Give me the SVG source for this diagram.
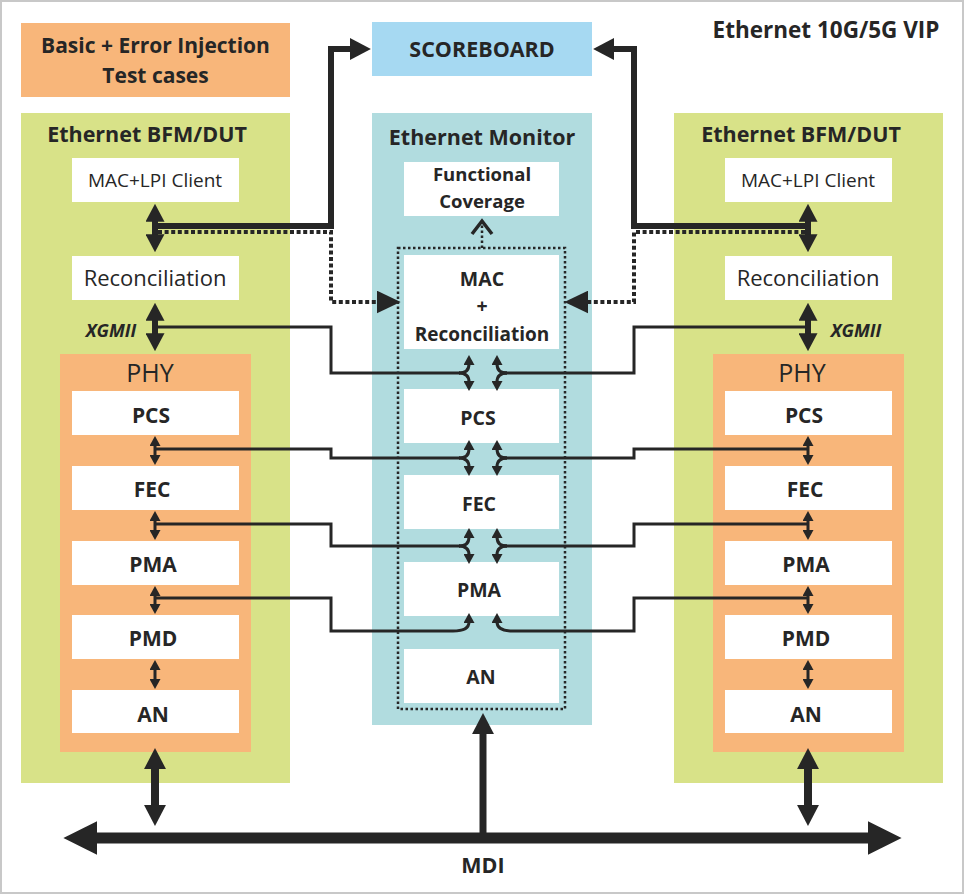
<svg xmlns="http://www.w3.org/2000/svg" width="964" height="894" viewBox="0 0 964 894">
<style>
text{font-family:"Open Sans","Noto Sans","Liberation Sans",sans-serif;fill:#262626;text-anchor:middle}
.b{font-weight:bold}
.t{font-size:21.5px;font-weight:bold}
.lbl{font-size:21px;font-weight:bold}
.mlbl{font-size:19.5px;font-weight:bold}
.reg{font-size:22px}
.box{fill:#fff}
.green{fill:#D8E288}
.orange{fill:#F8B67A}
.mon{fill:#B1DCDF}
.thin{fill:none;stroke:#262626;stroke-width:3}
.thick{fill:none;stroke:#262626;stroke-width:6}
.dot{fill:none;stroke:#262626;stroke-width:4;stroke-dasharray:4 2.6}
.fdot{fill:none;stroke:#262626;stroke-width:2.5;stroke-dasharray:2.5 2.5}
</style>
<defs>
<marker id="hs" viewBox="0 0 10 10" refX="1" refY="5" markerWidth="10" markerHeight="11" markerUnits="userSpaceOnUse" orient="auto-start-reverse" preserveAspectRatio="none"><path d="M0,0L10,5L0,10z" fill="#262626"/></marker>
<marker id="hm" viewBox="0 0 10 10" refX="1" refY="5" markerWidth="18" markerHeight="19" markerUnits="userSpaceOnUse" orient="auto-start-reverse" preserveAspectRatio="none"><path d="M0,0L10,5L0,10z" fill="#262626"/></marker>
<marker id="hk" viewBox="0 0 10 10" refX="1" refY="5" markerWidth="21" markerHeight="22" markerUnits="userSpaceOnUse" orient="auto-start-reverse" preserveAspectRatio="none"><path d="M0,0L10,5L0,10z" fill="#262626"/></marker>
<marker id="hd" viewBox="0 0 10 10" refX="1" refY="5" markerWidth="24" markerHeight="23" markerUnits="userSpaceOnUse" orient="auto" preserveAspectRatio="none"><path d="M0,0L10,5L0,10z" fill="#262626"/></marker>
<marker id="hb" viewBox="0 0 10 10" refX="1" refY="5" markerWidth="34" markerHeight="34" markerUnits="userSpaceOnUse" orient="auto-start-reverse" preserveAspectRatio="none"><path d="M0,0L10,5L0,10z" fill="#262626"/></marker>
</defs>
<rect x="1" y="1" width="962" height="892" fill="#fff" stroke="#c8c8c8" stroke-width="2"/>
<text x="826" y="38" font-size="22.5" class="b">Ethernet 10G/5G VIP</text>

<g id="testcases">
<rect x="21" y="23" width="269" height="74" class="orange"/>
<text x="155.5" y="53" font-size="21" class="b">Basic + Error Injection</text>
<text x="155.5" y="83" font-size="21" class="b">Test cases</text>
</g>

<g id="scoreboard">
<rect x="372" y="22" width="220" height="54" fill="#A6D9F2"/>
<text x="482" y="57" class="t">SCOREBOARD</text>
</g>

<g id="bfm-left">
<rect x="21" y="113" width="269" height="670" class="green"/>
<text x="147" y="142" class="t">Ethernet BFM/DUT</text>
<rect x="72" y="158" width="167" height="44" class="box"/>
<text x="155" y="187" font-size="19">MAC+LPI Client</text>
<rect x="72" y="256" width="167" height="44" class="box"/>
<text x="155" y="286" class="reg">Reconciliation</text>
<text x="111" y="337" font-size="18" font-weight="bold" font-style="italic">XGMII</text>
<rect x="60" y="354" width="191" height="398" class="orange"/>
<text x="150" y="382" font-size="25">PHY</text>
<rect x="72" y="391" width="167" height="44" class="box"/>
<text x="151" y="423" class="lbl">PCS</text>
<rect x="72" y="466" width="167" height="44" class="box"/>
<text x="152" y="497" class="lbl">FEC</text>
<rect x="72" y="541" width="167" height="44" class="box"/>
<text x="153" y="572" class="lbl">PMA</text>
<rect x="72" y="615" width="167" height="44" class="box"/>
<text x="153" y="646" class="lbl">PMD</text>
<rect x="72" y="690" width="167" height="43" class="box"/>
<text x="153" y="722" class="lbl">AN</text>
</g>

<g id="bfm-right">
<rect x="674" y="113" width="269" height="670" class="green"/>
<text x="801" y="142" class="t">Ethernet BFM/DUT</text>
<rect x="725" y="158" width="167" height="44" class="box"/>
<text x="808" y="187" font-size="19">MAC+LPI Client</text>
<rect x="725" y="256" width="167" height="44" class="box"/>
<text x="808" y="286" class="reg">Reconciliation</text>
<text x="856" y="337" font-size="18" font-weight="bold" font-style="italic">XGMII</text>
<rect x="713" y="354" width="191" height="398" class="orange"/>
<text x="802" y="382" font-size="25">PHY</text>
<rect x="725" y="391" width="167" height="44" class="box"/>
<text x="804" y="423" class="lbl">PCS</text>
<rect x="725" y="466" width="167" height="44" class="box"/>
<text x="805" y="497" class="lbl">FEC</text>
<rect x="725" y="541" width="167" height="44" class="box"/>
<text x="806" y="572" class="lbl">PMA</text>
<rect x="725" y="615" width="167" height="44" class="box"/>
<text x="806" y="646" class="lbl">PMD</text>
<rect x="725" y="690" width="167" height="43" class="box"/>
<text x="806" y="722" class="lbl">AN</text>
</g>

<g id="monitor">
<rect x="372" y="113" width="220" height="612" class="mon"/>
<text x="482" y="145" class="t">Ethernet Monitor</text>
<rect x="404" y="162" width="155" height="54" class="box"/>
<text x="482" y="181" font-size="18.5" class="b">Functional</text>
<text x="482" y="208" font-size="18.5" class="b">Coverage</text>
<rect x="404" y="255" width="155" height="94" class="box"/>
<text x="482" y="286" class="mlbl">MAC</text>
<text x="482" y="313" class="mlbl">+</text>
<text x="482" y="341" font-size="19" class="b">Reconciliation</text>
<rect x="404" y="389" width="155" height="54" class="box"/>
<text x="478" y="425" class="mlbl">PCS</text>
<rect x="404" y="475" width="155" height="54" class="box"/>
<text x="479" y="511" class="mlbl">FEC</text>
<rect x="404" y="562" width="155" height="54" class="box"/>
<text x="479" y="597" class="mlbl">PMA</text>
<rect x="404" y="649" width="155" height="54" class="box"/>
<text x="481" y="684" class="mlbl">AN</text>
<rect x="398" y="248" width="167" height="461" class="fdot"/>
</g>

<text x="483" y="873" class="t">MDI</text>

<g id="connectors">
<path d="M155,226H331V49H352" class="thick" marker-end="url(#hk)"/>
<path d="M808,226H634V49H612" class="thick" marker-end="url(#hk)"/>
<path d="M158,232H331V302H379" class="dot" marker-end="url(#hd)"/>
<path d="M805,232H634V302H586" class="dot" marker-end="url(#hd)"/>
<path d="M482,248V222" class="fdot"/>
<polyline points="472,234 482,221 492,234" fill="none" stroke="#262626" stroke-width="3.5"/>
<path d="M155,220V236" class="thick" marker-start="url(#hm)" marker-end="url(#hm)"/>
<path d="M155,319V335" class="thick" marker-start="url(#hm)" marker-end="url(#hm)"/>
<path d="M808,220V236" class="thick" marker-start="url(#hm)" marker-end="url(#hm)"/>
<path d="M808,319V335" class="thick" marker-start="url(#hm)" marker-end="url(#hm)"/>
<path d="M155,445V456" class="thin" marker-start="url(#hs)" marker-end="url(#hs)"/>
<path d="M155,520V531" class="thin" marker-start="url(#hs)" marker-end="url(#hs)"/>
<path d="M155,595V605" class="thin" marker-start="url(#hs)" marker-end="url(#hs)"/>
<path d="M155,669V680" class="thin" marker-start="url(#hs)" marker-end="url(#hs)"/>
<path d="M808,445V456" class="thin" marker-start="url(#hs)" marker-end="url(#hs)"/>
<path d="M808,520V531" class="thin" marker-start="url(#hs)" marker-end="url(#hs)"/>
<path d="M808,595V605" class="thin" marker-start="url(#hs)" marker-end="url(#hs)"/>
<path d="M808,669V680" class="thin" marker-start="url(#hs)" marker-end="url(#hs)"/>
<path d="M155,327H331V373H460" class="thin"/>
<path d="M459,373Q469,373 469,364" class="thin" marker-end="url(#hs)"/>
<path d="M459,373Q469,373 469,382" class="thin" marker-end="url(#hs)"/>
<path d="M808,327H634V373H503" class="thin"/>
<path d="M507,373Q497,373 497,364" class="thin" marker-end="url(#hs)"/>
<path d="M507,373Q497,373 497,382" class="thin" marker-end="url(#hs)"/>
<path d="M155,449H331V458H460" class="thin"/>
<path d="M459,458Q469,458 469,449" class="thin" marker-end="url(#hs)"/>
<path d="M459,458Q469,458 469,467" class="thin" marker-end="url(#hs)"/>
<path d="M808,449H634V458H503" class="thin"/>
<path d="M507,458Q497,458 497,449" class="thin" marker-end="url(#hs)"/>
<path d="M507,458Q497,458 497,467" class="thin" marker-end="url(#hs)"/>
<path d="M155,524H331V546H460" class="thin"/>
<path d="M459,546Q469,546 469,537" class="thin" marker-end="url(#hs)"/>
<path d="M459,546Q469,546 469,555" class="thin" marker-end="url(#hs)"/>
<path d="M808,524H634V546H503" class="thin"/>
<path d="M507,546Q497,546 497,537" class="thin" marker-end="url(#hs)"/>
<path d="M507,546Q497,546 497,555" class="thin" marker-end="url(#hs)"/>
<path d="M155,598H331V631H453Q469,631 469,622" class="thin" marker-end="url(#hs)"/>
<path d="M808,598H634V631H513Q497,631 497,622" class="thin" marker-end="url(#hs)"/>
<path d="M155,767V807" fill="none" stroke="#262626" stroke-width="8" marker-start="url(#hk)" marker-end="url(#hk)"/>
<path d="M808,767V807" fill="none" stroke="#262626" stroke-width="8" marker-start="url(#hk)" marker-end="url(#hk)"/>
<path d="M94,838H871" fill="none" stroke="#262626" stroke-width="11" marker-start="url(#hb)" marker-end="url(#hb)"/>
<path d="M483,838V732" fill="none" stroke="#262626" stroke-width="7" marker-end="url(#hk)"/>
</g>
</svg>
